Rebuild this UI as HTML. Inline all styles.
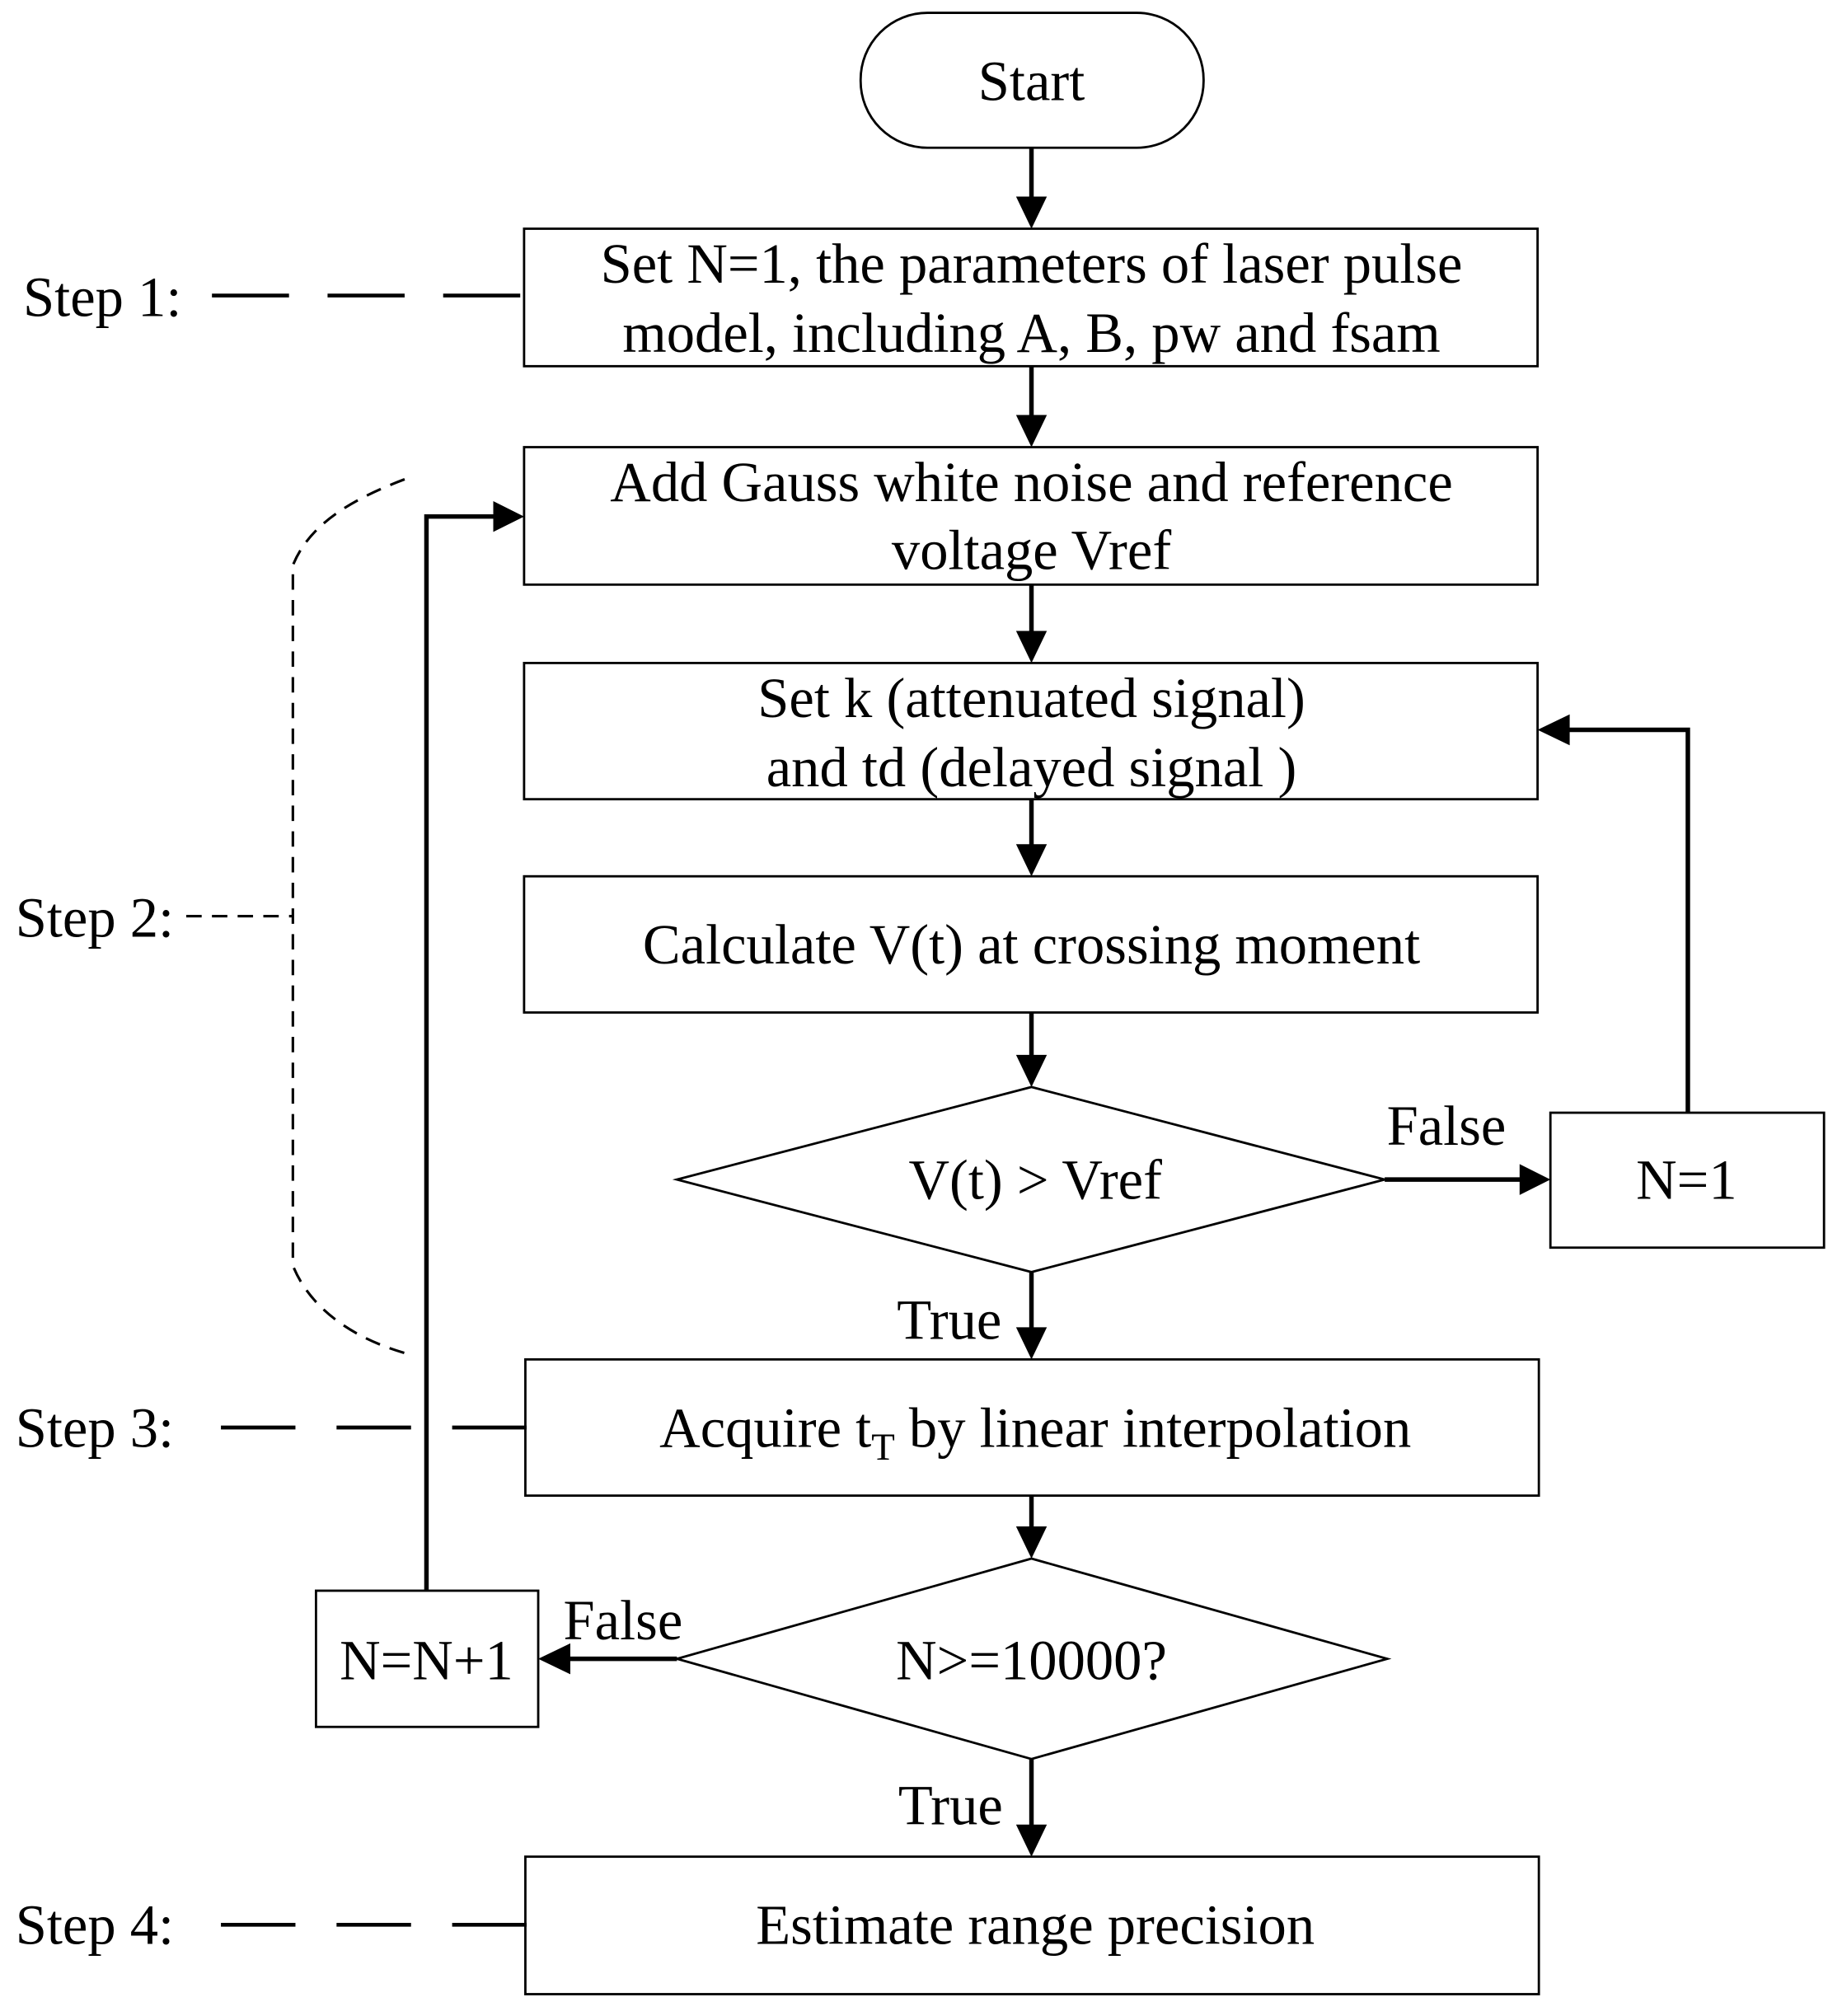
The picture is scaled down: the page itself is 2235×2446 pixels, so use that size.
<!DOCTYPE html>
<html><head><meta charset="utf-8"><style>html,body{margin:0;padding:0;background:#fff}svg{display:block}text{font-family:"Liberation Serif",serif;fill:#000}</style></head><body>
<svg width="2235" height="2446" viewBox="0 0 1434 1569" preserveAspectRatio="none" xmlns="http://www.w3.org/2000/svg">
<g fill="none" stroke="#000" stroke-width="1.8">
<rect x="670" y="10" width="267" height="105" rx="52"/>
<rect x="408" y="178" width="789" height="107"/>
<rect x="408" y="348" width="789" height="107"/>
<rect x="408" y="516" width="789" height="106"/>
<rect x="408" y="682" width="789" height="106"/>
<polygon points="803,846 1078,918 803,990 527,918"/>
<rect x="1207" y="866" width="213" height="105"/>
<rect x="409" y="1058" width="789" height="106"/>
<polygon points="803,1213 1080,1291 803,1369 527,1291"/>
<rect x="246" y="1238" width="173" height="106"/>
<rect x="409" y="1445" width="789" height="107"/>
</g>
<g fill="none" stroke="#000" stroke-width="3.5">
<line x1="803" y1="115" x2="803" y2="155"/>
<line x1="803" y1="285" x2="803" y2="325"/>
<line x1="803" y1="455" x2="803" y2="493"/>
<line x1="803" y1="622" x2="803" y2="659"/>
<line x1="803" y1="788" x2="803" y2="823"/>
<line x1="1078" y1="918" x2="1185" y2="918"/>
<polyline points="1314,866 1314,568 1220,568"/>
<line x1="803" y1="990" x2="803" y2="1035"/>
<line x1="803" y1="1164" x2="803" y2="1190"/>
<line x1="527" y1="1291" x2="442" y2="1291"/>
<polyline points="332,1238 332,402 386,402"/>
<line x1="803" y1="1369" x2="803" y2="1422"/>
</g>
<g fill="#000">
<polygon points="791,153 815,153 803,178"/>
<polygon points="791,323 815,323 803,348"/>
<polygon points="791,491 815,491 803,516"/>
<polygon points="791,657 815,657 803,682"/>
<polygon points="791,821 815,821 803,846"/>
<polygon points="1183,906 1183,930 1207,918"/>
<polygon points="1222,556 1222,580 1197,568"/>
<polygon points="791,1033 815,1033 803,1058"/>
<polygon points="791,1188 815,1188 803,1213"/>
<polygon points="444,1279 444,1303 419,1291"/>
<polygon points="384,390 384,414 408,402"/>
<polygon points="791,1420 815,1420 803,1445"/>
</g>
<g stroke="#000" stroke-width="3" fill="none">
<path d="M165,230 H225 M255,230 H315 M345,230 H405"/>
<path d="M172,1111 H230 M262,1111 H320 M352,1111 H410"/>
<path d="M172,1498 H230 M262,1498 H320 M352,1498 H410"/>
</g>
<g stroke="#000" stroke-width="2" fill="none" stroke-dasharray="12,8">
<path d="M145,713 H228"/>
<path d="M315,373 C270,390 240,410 228,440 V985 C240,1015 270,1040 315,1053"/>
</g>
<g font-size="44" text-anchor="middle">
<text x="803" y="78">Start</text>
<text x="803" y="220">Set N=1, the parameters of laser pulse</text>
<text x="803" y="274">model, including A, B, pw and fsam</text>
<text x="803" y="390">Add Gauss white noise  and reference</text>
<text x="803" y="443">voltage Vref</text>
<text x="803" y="558">Set  k (attenuated signal)</text>
<text x="803" y="612">and td (delayed signal )</text>
<text x="803" y="750">Calculate V(t) at crossing moment</text>
<text x="806" y="933">V(t) &gt; Vref</text>
<text x="1313" y="933">N=1</text>
<text x="1126" y="891">False</text>
<text x="739" y="1042">True</text>
<text x="806" y="1126">Acquire t<tspan font-size="30" dy="10">T</tspan><tspan dy="-10"> by linear interpolation</tspan></text>
<text x="803" y="1307">N&gt;=10000?</text>
<text x="332" y="1307">N=N+1</text>
<text x="485" y="1276">False</text>
<text x="740" y="1420">True</text>
<text x="806" y="1513">Estimate range precision</text>
</g>
<g font-size="44">
<text x="18" y="246">Step 1:</text>
<text x="12" y="729">Step 2:</text>
<text x="12" y="1126">Step 3:</text>
<text x="12" y="1513">Step 4:</text>
</g>
</svg>
</body></html>
